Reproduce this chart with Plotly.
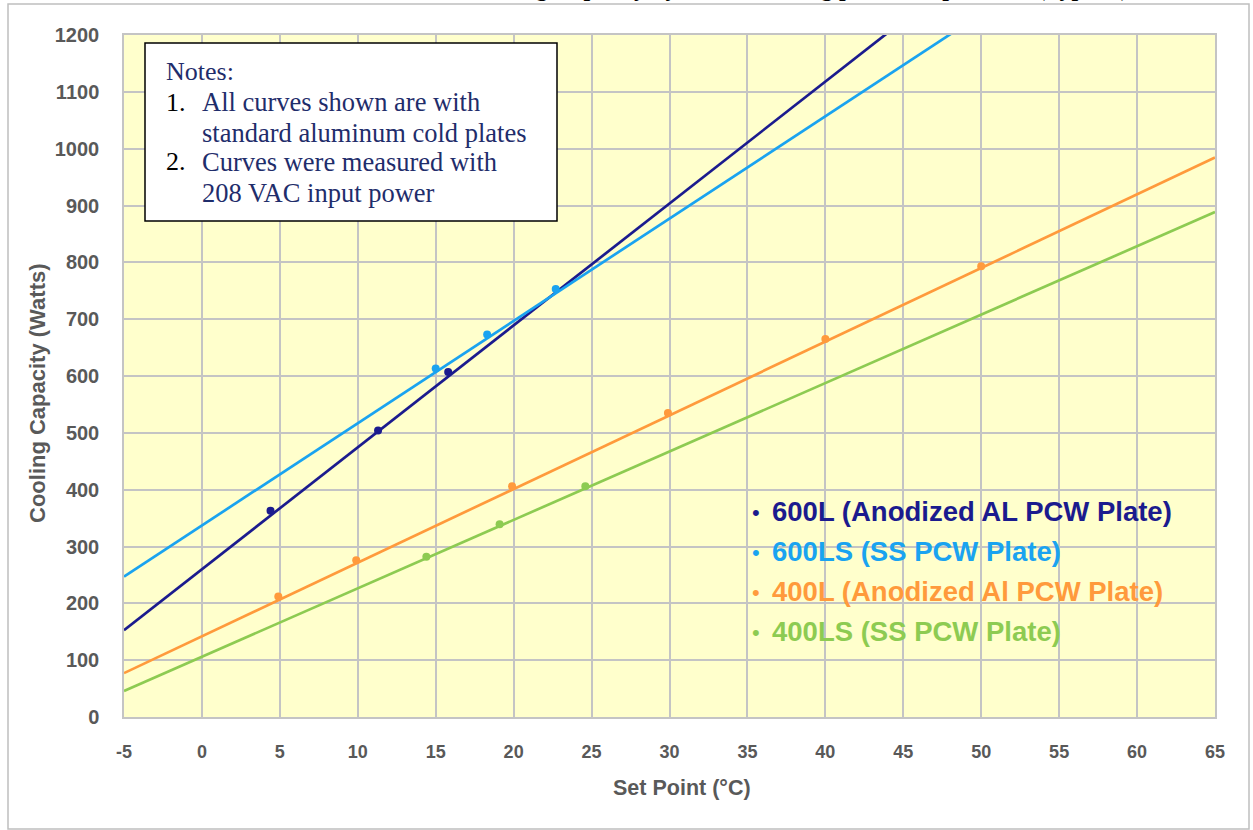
import plotly.graph_objects as go

# ---- data ----
series_names = ["600L (Anodized AL PCW Plate)", "600LS (SS PCW Plate)",
                "400L (Anodized Al PCW Plate)", "400LS (SS PCW Plate)"]
series_colors = ["#1B1B8E", "#1AA3F0", "#FF9A3C", "#8DCB52"]

x_600L = [4.4, 11.3, 15.8]
y_600L = [363, 504, 607]
x_600LS = [15.0, 18.3, 22.7]
y_600LS = [613, 673, 753]
x_400L = [4.9, 9.9, 19.9, 29.9, 40.0, 50.0]
y_400L = [212, 276, 406, 535, 665, 793]
x_400LS = [14.4, 19.1, 24.6]
y_400LS = [282, 339, 406]

# linear trendlines (intercept, slope)
trend_intercepts = [260, 337, 142, 106]
trend_slopes = [21.45, 18.0, 12.96, 12.04]
trend_x = [-5, 65]

x_ticks = list(range(-5, 70, 5))
y_ticks = list(range(0, 1300, 100))

notes_lines = ["All curves shown are with", "standard aluminum cold plates",
               "Curves were measured with", "208 VAC input power"]

title_text = "600L / 400L Cooling Capacity by Chiller Setting point Temperature (Typical)"

# ---- figure ----
W, H = 1253, 830
L, R, T, B = 124, 38, 35, 113
PW, PH = W - L - R, H - T - B


def px(xp):
    return (xp - L) / PW


def py(yp):
    return (H - B - yp) / PH


fig = go.Figure()
xs = [x_600L, x_600LS, x_400L, x_400LS]
ys = [y_600L, y_600LS, y_400L, y_400LS]
for i in range(4):
    tx = trend_x
    ty = [trend_intercepts[i] + trend_slopes[i] * v for v in tx]
    fig.add_trace(go.Scatter(x=tx, y=ty, mode="lines",
                             line=dict(color=series_colors[i], width=2.7),
                             showlegend=False, hoverinfo="skip"))
    fig.add_trace(go.Scatter(x=xs[i], y=ys[i], mode="markers",
                             marker=dict(color=series_colors[i], size=8),
                             name=series_names[i], showlegend=False))

sans = "Liberation Sans, Arial, sans-serif"
fig.update_xaxes(range=[-5, 65], tickvals=x_ticks, ticktext=[str(v) for v in x_ticks],
                 showgrid=True, gridcolor="#C4C4C4", gridwidth=1.5,
                 showline=True, linecolor="#C4C4C4", linewidth=1.5, mirror=True,
                 zeroline=False, ticks="", ticklabelstandoff=18,
                 tickfont=dict(family=sans, size=18, color="#595959", weight="bold"))
fig.update_yaxes(range=[0, 1200], tickvals=y_ticks, ticktext=[str(v) for v in y_ticks],
                 showgrid=True, gridcolor="#C4C4C4", gridwidth=1.5,
                 showline=True, linecolor="#C4C4C4", linewidth=1.5, mirror=True,
                 zeroline=False, ticks="", ticklabelstandoff=19,
                 tickfont=dict(family=sans, size=20, color="#595959", weight="bold"))

shapes = [
    # outer frame
    dict(type="rect", xref="paper", yref="paper", x0=px(8), x1=px(1249), y0=py(829), y1=py(4),
         line=dict(color="#BFBFBF", width=1.5), fillcolor="rgba(0,0,0,0)", layer="below"),
    # notes box
    dict(type="rect", xref="paper", yref="paper", x0=px(145), x1=px(557), y0=py(221), y1=py(43),
         line=dict(color="#000000", width=1.5), fillcolor="#FFFFFF", layer="above"),
]

serif = "Liberation Serif, Times New Roman, serif"
navy = "#1F2D6B"
ann = []
ann.append(dict(text="Notes:", x=px(164), y=py(72), xref="paper", yref="paper",
                xanchor="left", yanchor="middle", showarrow=False,
                font=dict(family=serif, size=26, color=navy)))
line_y = [102, 133, 162, 193]
nums = ["1.", "", "2.", ""]
for i, t in enumerate(notes_lines):
    if nums[i]:
        ann.append(dict(text=nums[i], x=px(164), y=py(line_y[i]), xref="paper", yref="paper",
                        xanchor="left", yanchor="middle", showarrow=False,
                        font=dict(family=serif, size=26, color="#000000")))
    ann.append(dict(text=t, x=px(200), y=py(line_y[i]), xref="paper", yref="paper",
                    xanchor="left", yanchor="middle", showarrow=False,
                    font=dict(family=serif, size=26.5, color=navy)))

# legend as coloured text
leg_y = [511, 551, 591, 631]
for i in range(4):
    ann.append(dict(text="\u2022", x=px(756), y=py(leg_y[i] + 1), xref="paper", yref="paper",
                    xanchor="center", yanchor="middle", showarrow=False,
                    font=dict(family=sans, size=22, color=series_colors[i])))
    ann.append(dict(text=series_names[i], x=px(770), y=py(leg_y[i]), xref="paper", yref="paper",
                    xanchor="left", yanchor="middle", showarrow=False,
                    font=dict(family=sans, size=27.5, color=series_colors[i], weight="bold")))

# axis titles
ann.append(dict(text="Set Point (\u00b0C)", x=px(682), y=py(788), xref="paper", yref="paper",
                xanchor="center", yanchor="middle", showarrow=False,
                font=dict(family=sans, size=21.5, color="#595959", weight="bold")))
ann.append(dict(text="Cooling Capacity (Watts)", x=px(37), y=py(393), xref="paper", yref="paper",
                xanchor="center", yanchor="middle", showarrow=False, textangle=-90,
                font=dict(family=sans, size=22, color="#595959", weight="bold")))

# title (cut off at the top edge in the reference)
ann.append(dict(text=title_text, x=px(735), y=py(2.7), xref="paper", yref="paper",
                xanchor="center", yanchor="bottom", showarrow=False,
                font=dict(family=serif, size=24, color="#000000", weight="bold")))

fig.update_layout(width=W, height=H, margin=dict(l=L, r=R, t=T, b=B),
                  paper_bgcolor="#FFFFFF", plot_bgcolor="#FFFFCC",
                  shapes=shapes, annotations=ann, showlegend=False)

fig.write_html("out.html", config={"displayModeBar": False},
               post_script="document.body.style.margin='0';document.body.style.overflow='hidden';")
